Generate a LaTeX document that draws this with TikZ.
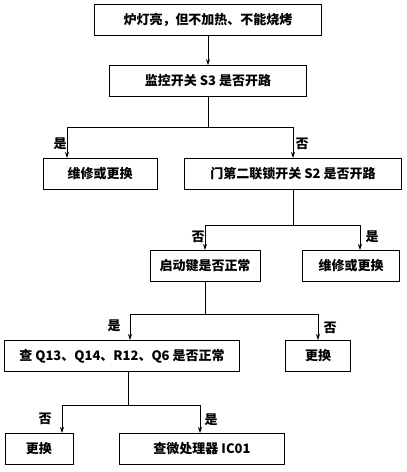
\documentclass[tikz,border=0pt]{standalone}
\usepackage{fontspec}
\setmainfont{Noto Sans CJK SC}
\usetikzlibrary{arrows.meta}
\begin{document}
\begin{tikzpicture}[x=1pt,y=-1pt,
  box/.style={draw,line width=0.9pt,minimum height=31pt,inner sep=2pt,font=\fontsize{13}{15}\selectfont\bfseries},
  ln/.style={line width=0.9pt},
  ar/.style={line width=0.9pt,-{Stealth[length=6pt,width=4pt]}},
  lb/.style={font=\fontsize{13}{15}\selectfont\bfseries}]
\useasboundingbox (0,0) rectangle (407,472);
\node[box,minimum width=227pt] (b1) at (208,20) {炉灯亮，但不加热、不能烧烤};
\node[box,minimum width=197pt] (b2) at (208,81) {监控开关 S3 是否开路};
\node[box,minimum width=114pt] (b3) at (100,174) {维修或更换};
\node[box,minimum width=217pt] (b4) at (293,174) {门第二联锁开关 S2 是否开路};
\node[box,minimum width=110pt] (b5) at (205,266) {启动键是否正常};
\node[box,minimum width=97pt] (b6) at (351,266) {维修或更换};
\node[box,minimum width=235pt] (b7) at (122,356) {查 Q13、Q14、R12、Q6 是否正常};
\node[box,minimum width=65pt] (b8) at (318,356) {更换};
\node[box,minimum width=68pt] (b9) at (39,449) {更换};
\node[box,minimum width=165pt] (b10) at (202,449) {查微处理器 IC01};
\coordinate (j1) at (208,127);
\coordinate (j2) at (293,225);
\coordinate (j3) at (205,314);
\coordinate (j4) at (128,405);
\draw[ar] (b1) -- (b2);
\draw[ln] (b2) -- (j1);
\draw[ar] (j1) -| (67,158);
\draw[ar] (j1) -| (293,158);
\draw[ln] (b4.south) -- (j2);
\draw[ar] (j2) -| (205,250);
\draw[ar] (j2) -| (360,250);
\draw[ln] (b5) -- (j3);
\draw[ar] (j3) -| (130,340);
\draw[ar] (j3) -| (318,340);
\draw[ln] (b7.south -| j4) -- (j4);
\draw[ar] (j4) -| (62,433);
\draw[ar] (j4) -| (200,433);
\node[lb] at (60,144) {是};
\node[lb] at (302,144) {否};
\node[lb] at (198,237) {否};
\node[lb] at (372,237) {是};
\node[lb] at (114,326) {是};
\node[lb] at (330,328) {否};
\node[lb] at (45,419) {否};
\node[lb] at (211,420) {是};
\end{tikzpicture}
\end{document}
